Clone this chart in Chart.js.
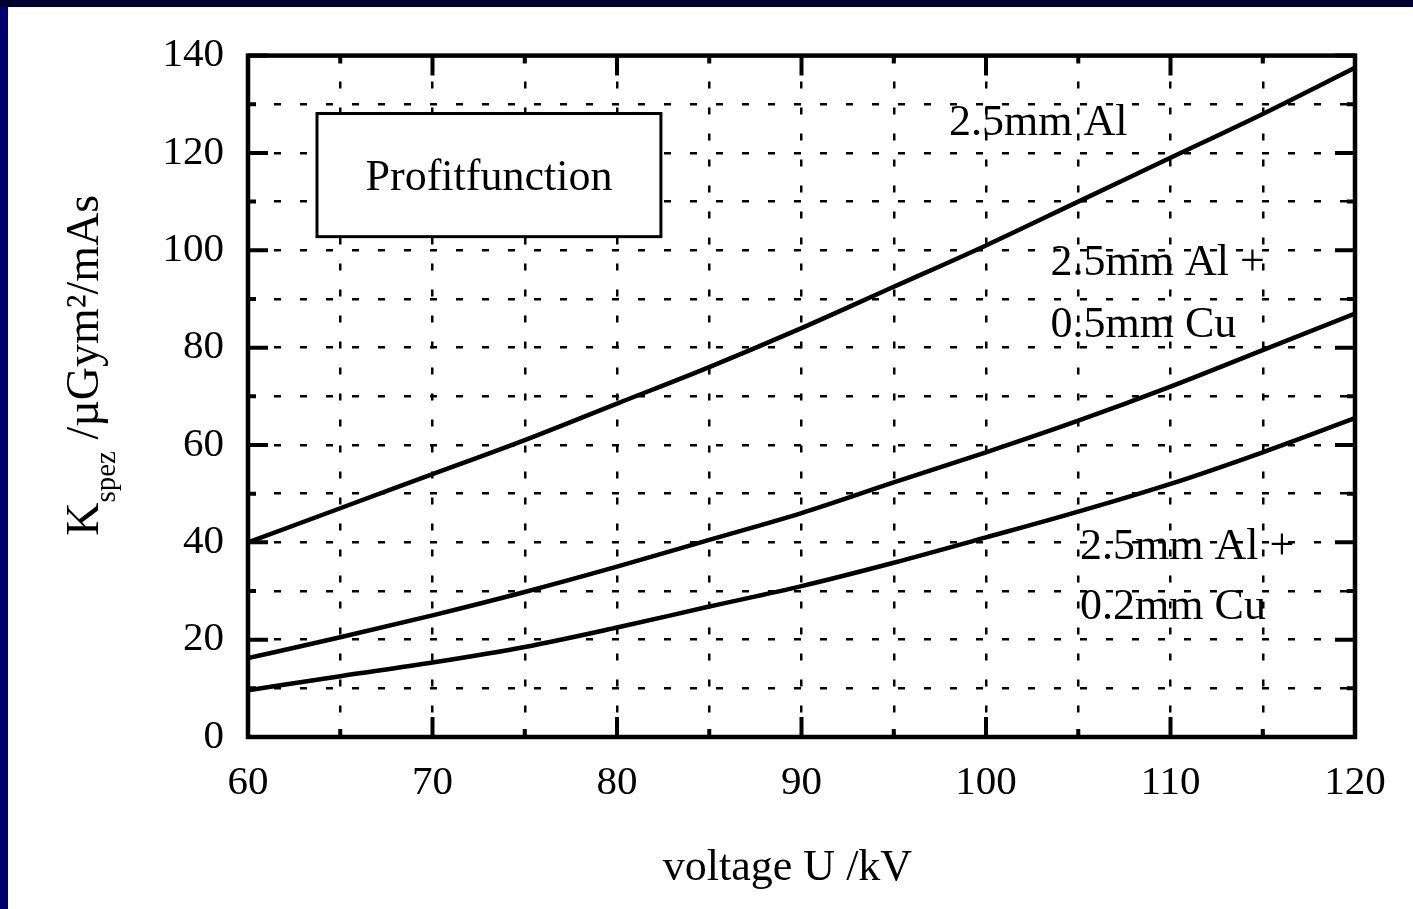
<!DOCTYPE html>
<html>
<head>
<meta charset="utf-8">
<title>Profitfunction</title>
<script src="https://cdn.jsdelivr.net/npm/chart.js@4/dist/chart.umd.min.js"></script>
<style>
  html, body { margin: 0; padding: 0; background: #00006e; overflow: hidden; }
  #topbar { position: absolute; left: 0; top: 0; width: 1413px; height: 7px; background: #000030; }
  #wrap { position: absolute; left: 8px; top: 7px; width: 1405px; height: 902px; background: #fff; }
</style>
</head>
<body>
<div id="topbar"></div>
<div id="wrap"><canvas id="chart" width="1405" height="902"></canvas></div>
<script>
/* ---- data ---- */
const voltage = [60, 65, 70, 75, 80, 85, 90, 95, 100, 105, 110, 115, 120];
const al25    = [40, 47, 54, 61, 68.5, 76, 84, 92.5, 101, 110, 119, 128, 137.5];
const al25cu05 = [16.2, 20.5, 25, 29.8, 35, 40.5, 46, 52.3, 58.5, 65, 72, 79.5, 87];
const al25cu02 = [9.6, 12.5, 15.3, 18.5, 22.5, 26.8, 31, 35.8, 41, 46.3, 52, 58.5, 65.5];

const xLabelStep = 10;
const yLabelStep = 20;

// curve captions, anchored in data units
const notes = [
  {text: '2.5mm Al',   x: 98.0,  y: 126},
  {text: '2.5mm Al +', x: 103.5, y: 97.3},
  {text: '0.5mm Cu',   x: 103.5, y: 84.6},
  {text: '2.5mm Al +', x: 105.1, y: 39},
  {text: '0.2mm Cu',   x: 105.1, y: 26.7},
];
const titleBox = {text: 'Profitfunction', x0: 63.74, x1: 82.38, y0: 102.8, y1: 128.1};
const xTitle = 'voltage U /kV';

const SERIF = '"Liberation Serif", "Times New Roman", serif';

const pts = ys => ys.map((y, i) => ({x: voltage[i], y}));
const curve = (label, ys) => ({
  label, data: pts(ys),
  borderColor: '#000', borderWidth: 4.5, pointRadius: 0,
  cubicInterpolationMode: 'monotone', fill: false,
});

// frame, inward ticks, captions, axis titles
const decor = {
  id: 'decor',
  afterDatasetsDraw(chart) {
    const {ctx, chartArea: a, scales: {x, y}} = chart;
    ctx.save();
    ctx.strokeStyle = '#000';
    ctx.lineCap = 'butt';

    // inward ticks
    ctx.lineWidth = 4;
    x.ticks.forEach(t => {
      const px = x.getPixelForValue(t.value);
      const len = t.value % xLabelStep === 0 ? 20 : 8;
      ctx.beginPath();
      ctx.moveTo(px, a.bottom); ctx.lineTo(px, a.bottom - len);
      ctx.moveTo(px, a.top); ctx.lineTo(px, a.top + len);
      ctx.stroke();
    });
    y.ticks.forEach(t => {
      const py = y.getPixelForValue(t.value);
      const len = t.value % yLabelStep === 0 ? 20 : 8;
      ctx.beginPath();
      ctx.moveTo(a.left, py); ctx.lineTo(a.left + len, py);
      ctx.moveTo(a.right, py); ctx.lineTo(a.right - len, py);
      ctx.stroke();
    });

    // frame
    ctx.lineWidth = 4.5;
    ctx.strokeRect(a.left, a.top, a.right - a.left, a.bottom - a.top);

    // boxed title
    const bx0 = x.getPixelForValue(titleBox.x0), bx1 = x.getPixelForValue(titleBox.x1);
    const by0 = y.getPixelForValue(titleBox.y1), by1 = y.getPixelForValue(titleBox.y0);
    ctx.fillStyle = '#fff';
    ctx.fillRect(bx0, by0, bx1 - bx0, by1 - by0);
    ctx.lineWidth = 3;
    ctx.strokeRect(bx0, by0, bx1 - bx0, by1 - by0);
    ctx.fillStyle = '#000';
    ctx.font = `44px ${SERIF}`;
    ctx.textAlign = 'center';
    ctx.textBaseline = 'middle';
    ctx.fillText(titleBox.text, (bx0 + bx1) / 2, (by0 + by1) / 2 + 3);

    // x axis title (sits a bit left of centre in the scan)
    ctx.fillText(xTitle, (a.left + a.right) / 2 - 14, a.bottom + 131);

    // curve captions
    ctx.textAlign = 'left';
    notes.forEach(n => {
      ctx.fillText(n.text, x.getPixelForValue(n.x), y.getPixelForValue(n.y));
    });

    // y axis title: K_spez /µGym²/mAs, rotated
    const big = `46px ${SERIF}`, small = `29px ${SERIF}`;
    ctx.font = big;
    const wK = ctx.measureText('K').width;
    const wRest = ctx.measureText(' /µGym²/mAs').width;
    ctx.font = small;
    const wSub = ctx.measureText('spez').width;
    const total = wK + wSub + wRest;
    const cy = (a.top + a.bottom) / 2 - 31;
    ctx.translate(90, cy + total / 2);
    ctx.rotate(-Math.PI / 2);
    ctx.textBaseline = 'alphabetic';
    ctx.font = big;
    ctx.fillText('K', 0, 0);
    ctx.font = small;
    ctx.fillText('spez', wK, 17);
    ctx.font = big;
    ctx.fillText(' /µGym²/mAs', wK + wSub, 0);
    ctx.restore();
  }
};

new Chart(document.getElementById('chart'), {
  type: 'line',
  data: {
    datasets: [
      curve('2.5mm Al', al25),
      curve('2.5mm Al + 0.5mm Cu', al25cu05),
      curve('2.5mm Al + 0.2mm Cu', al25cu02),
    ],
  },
  options: {
    responsive: false,
    animation: false,
    layout: {padding: {top: 48, right: 58, left: 0, bottom: 0}},
    plugins: {legend: {display: false}, tooltip: {enabled: false}},
    scales: {
      x: {
        type: 'linear', min: 60, max: 120,
        afterFit: s => { s.height = 172; },
        grid: {color: '#000', lineWidth: 2.5, drawTicks: false},
        border: {display: false, dash: [7, 19]},
        ticks: {
          stepSize: 5, padding: 22, color: '#000', maxRotation: 0, autoSkip: false,
          font: {family: SERIF, size: 41},
          callback: v => (v % xLabelStep === 0 ? String(v) : ''),
        },
      },
      y: {
        min: 0, max: 140,
        afterFit: s => { s.width = 240; },
        grid: {color: '#000', lineWidth: 2.5, drawTicks: false},
        border: {display: false, dash: [7, 19]},
        ticks: {
          stepSize: 10, padding: 24, color: '#000', autoSkip: false,
          font: {family: SERIF, size: 41},
          callback: v => (v % yLabelStep === 0 ? String(v) : ''),
        },
      },
    },
  },
  plugins: [decor],
});
</script>
</body>
</html>
